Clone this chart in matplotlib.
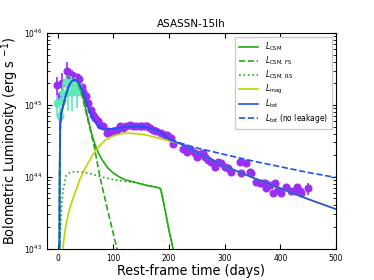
import numpy as np
import matplotlib
matplotlib.use("Agg")
import matplotlib.pyplot as plt

plt.rcParams["font.family"] = ["DejaVu Sans"]
plt.rcParams["font.stretch"] = "condensed"

# ---------------- data (log10 L in erg/s) ----------------
obs_t = [-1, 3, 5, 8, 16, 20, 25, 34, 38, 43, 46, 50, 55, 59, 63, 67, 72, 76, 81, 88,
         91, 96, 100, 106, 111, 117, 123, 129, 135, 141, 147, 151, 156, 160, 165, 171,
         177, 186, 192, 197, 204, 207, 225, 229, 232, 240, 246, 250, 255, 261, 264, 270,
         276, 282, 288, 294, 300, 306, 312, 327, 330, 339, 345, 348, 357, 363, 369, 372,
         375, 381, 387, 390, 396, 402, 410, 420, 426, 431, 435, 438, 450]
obs_logL = [45.28, 45.07, 45.14, 45.30, 45.47, 45.35, 45.42, 45.39, 45.36, 45.25, 45.18,
            45.12, 45.02, 44.93, 44.86, 44.82, 44.77, 44.72, 44.70, 44.61, 44.63, 44.62,
            44.64, 44.65, 44.70, 44.68, 44.71, 44.72, 44.71, 44.70, 44.71, 44.70, 44.70,
            44.70, 44.68, 44.65, 44.63, 44.61, 44.58, 44.58, 44.54, 44.45, 44.38, 44.40,
            44.35, 44.37, 44.33, 44.28, 44.31, 44.33, 44.28, 44.24, 44.21, 44.14, 44.21,
            44.19, 44.14, 44.12, 44.07, 44.21, 44.05, 44.19, 44.07, 44.05, 43.93, 43.92,
            43.91, 43.91, 43.84, 43.89, 43.77, 43.91, 43.82, 43.77, 43.86, 43.80, 43.80,
            43.86, 43.80, 43.77, 43.84]
obs_err = [0.3, 0.15, 0.1, 0.4, 0.35, 0.08, 0.15, 0.08, 0.06] + [0.04] * 71 + [0.2]

uv_t = [-1, 3, 7, 10, 14, 18, 23, 26, 31, 34, 37]
uv_logL = [45.02, 44.84, 45.07, 45.16, 45.32, 45.18, 45.32, 45.18, 45.28, 45.18, 45.26]
uv_err = [0.3, 0.35, 0.3, 0.4, 0.2, 0.45, 0.2, 0.45, 0.3, 0.4, 0.15]

# model curves
tot_t = [2.8, 3.2, 3.6, 4.5, 6, 10, 15, 20, 25, 30, 35, 40, 45, 50, 55, 60, 65, 70, 75,
         80, 90, 100, 120, 140, 160, 180, 190, 200, 220, 250, 300, 350, 400, 450, 500]
tot_logL = [42.9, 44.0, 44.45, 44.75, 44.88, 45.0, 45.15, 45.27, 45.33, 45.35, 45.33,
            45.28, 45.18, 45.06, 44.95, 44.86, 44.79, 44.73, 44.69, 44.67, 44.66, 44.67,
            44.69, 44.70, 44.69, 44.64, 44.59, 44.52, 44.46, 44.34, 44.15, 43.99, 43.84,
            43.69, 43.55]
noleak_t = [2.8, 3.2, 3.6, 4.5, 6, 10, 15, 20, 25, 30, 35, 40, 45, 50, 55, 60, 65, 70, 75,
            80, 90, 100, 120, 140, 160, 180, 190, 200, 220, 250, 300, 350, 400, 450, 500]
noleak_logL = [42.9, 44.0, 44.45, 44.75, 44.88, 45.0, 45.15, 45.27, 45.33, 45.35, 45.33,
               45.28, 45.18, 45.06, 44.95, 44.86, 44.79, 44.73, 44.69, 44.67, 44.66, 44.67,
               44.69, 44.70, 44.69, 44.64, 44.59, 44.53, 44.47, 44.40, 44.31, 44.22, 44.14,
               44.06, 43.99]
mag_t = [9, 12, 15, 20, 25, 30, 40, 50, 60, 67, 75, 85, 100, 120, 140, 160, 175, 190,
         200, 220, 250, 300, 350, 400, 450, 500]
mag_logL = [43.0, 43.2, 43.35, 43.52, 43.65, 43.76, 43.97, 44.13, 44.27, 44.36, 44.43,
            44.51, 44.57, 44.61, 44.60, 44.58, 44.55, 44.52, 44.50, 44.46, 44.34, 44.15,
            43.99, 43.84, 43.69, 43.55]
csm_t = [2.8, 3.2, 3.6, 4.5, 6, 10, 15, 20, 25, 30, 35, 40, 45, 50, 55, 60, 65, 70, 75,
         80, 90, 100, 110, 120, 140, 160, 180, 185, 190, 195, 200, 205, 210]
csm_logL = [42.9, 44.0, 44.45, 44.75, 44.88, 45.0, 45.15, 45.27, 45.33, 45.35, 45.33,
            45.25, 45.12, 44.95, 44.78, 44.62, 44.49, 44.38, 44.30, 44.23, 44.12, 44.05,
            44.0, 43.96, 43.92, 43.88, 43.85, 43.83, 43.65, 43.45, 43.25, 43.08, 42.9]
fs_t = [2.8, 3.2, 3.6, 4.5, 6, 10, 15, 20, 25, 30, 35, 40, 45, 50, 55, 60, 65, 70, 75,
        80, 85, 90, 95, 100, 105, 110]
fs_logL = [42.9, 44.0, 44.45, 44.75, 44.88, 45.0, 45.15, 45.27, 45.33, 45.35, 45.32,
           45.22, 45.08, 44.92, 44.76, 44.60, 44.44, 44.23, 44.02, 43.85, 43.69, 43.52,
           43.36, 43.2, 43.04, 42.88]
rs_t = [2.9, 4, 5.4, 6.6, 9.5, 15, 22, 30, 40, 55, 78, 100, 125, 140, 160, 180, 185,
        190, 195, 200, 205, 210]
rs_logL = [42.9, 43.15, 43.36, 43.59, 43.82, 44.02, 44.06, 44.07, 44.07, 44.05, 44.0,
           43.96, 43.93, 43.92, 43.88, 43.85, 43.83, 43.65, 43.45, 43.25, 43.08, 42.9]

# ---------------- plot ----------------
def lin(a):
    return 10 ** np.asarray(a, dtype=float)

C_GREEN = "#22aa11"
C_MAG = "#bcd600"
C_BLUE = "#1f52f0"
C_PURPLE = "#9a2ef5"
C_CYAN = "#5ee8b8"

fig = plt.figure(figsize=(3.74, 2.80), dpi=100)
ax = fig.add_axes([0.125, 0.112, 0.773, 0.77])

L = lin(obs_logL)
ax.errorbar(obs_t, L, yerr=L * np.asarray(obs_err), fmt="o", color=C_PURPLE,
            ms=4.8, elinewidth=1.2, capsize=0, zorder=2)
Lu = lin(uv_logL)
ax.errorbar(uv_t, Lu, yerr=Lu * np.asarray(uv_err), fmt="o", color=C_CYAN,
            ms=4.8, elinewidth=1.2, capsize=0, zorder=3)

lw = 1.2
ax.plot(csm_t, lin(csm_logL), color=C_GREEN, lw=lw, label=r"$L_{\rm CSM}$", zorder=4)
ax.plot(fs_t, lin(fs_logL), color=C_GREEN, lw=lw, ls="--", label=r"$L_{\rm CSM,\,FS}$", zorder=4)
ax.plot(rs_t, lin(rs_logL), color=C_GREEN, lw=lw, ls=":", label=r"$L_{\rm CSM,\,RS}$", zorder=4)
ax.plot(mag_t, lin(mag_logL), color=C_MAG, lw=lw, label=r"$L_{\rm mag}$", zorder=4)
ax.plot(tot_t, lin(tot_logL), color=C_BLUE, lw=lw, label=r"$L_{\rm tot}$", zorder=5)
ax.plot(noleak_t, lin(noleak_logL), color=C_BLUE, lw=lw, ls="--",
        label=r"$L_{\rm tot}$ (no leakage)", zorder=5)

ax.set_yscale("log")
ax.set_xlim(-20, 500)
ax.set_ylim(1e43, 1e46)
ax.set_xticks([0, 100, 200, 300, 400, 500])
ax.tick_params(which="both", direction="in", top=True, right=True, labelsize=6)
ax.tick_params(which="major", length=3.5)
ax.tick_params(which="minor", length=2)
ax.set_xlabel("Rest-frame time (days)", fontsize=10.3, labelpad=1)
ax.set_ylabel(r"Bolometric Luminosity (erg s $^{-1}$)", fontsize=10.3, labelpad=2)
ax.set_title("ASASSN-15lh", fontsize=7.5, pad=4, fontstretch="normal")
ax.legend(loc="upper right", fontsize=6, frameon=True, handlelength=2.3,
          labelspacing=0.2, borderpad=0.45, framealpha=1, edgecolor="#cccccc",
          fancybox=False)

fig.savefig("out.png", dpi=100)
